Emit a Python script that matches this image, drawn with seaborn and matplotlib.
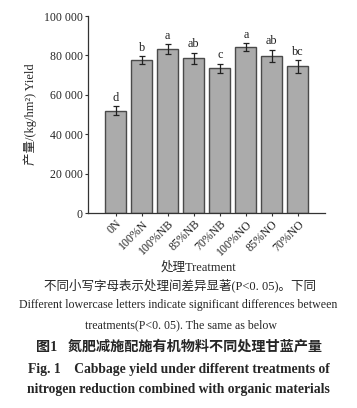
import matplotlib
matplotlib.use("Agg")
import matplotlib.pyplot as plt
import seaborn as sns
import pandas as pd
from matplotlib.ticker import FuncFormatter, MultipleLocator

treatments = ["0N", "100%N", "100%NB", "85%NB", "70%NB", "100%NO", "85%NO", "70%NO"]
yield_mean = [51900, 77500, 83100, 78500, 73400, 84100, 79800, 74400]
yield_err = [2300, 2000, 2500, 2900, 2400, 2100, 3100, 3100]
letters = ["d", "b", "a", "ab", "c", "a", "ab", "bc"]

sns.set_style("white")
plt.rcParams["font.family"] = ["Liberation Serif", "Noto Sans CJK SC"]

df = pd.DataFrame({"treatment": treatments, "yield": yield_mean})

fig = plt.figure(figsize=(3.57, 4.08), dpi=100)
ax = fig.add_axes([88/357, 1-213/408, (325-88)/357, (213-16)/408])

sns.barplot(data=df, x="treatment", y="yield", order=treatments, color="#ababab",
            edgecolor="#4a4a4a", linewidth=1.0, width=0.8, errorbar=None, saturation=1, ax=ax)
ax.errorbar(range(len(treatments)), yield_mean, yerr=yield_err, fmt="none",
            ecolor="#222222", elinewidth=0.9, capsize=2.2, capthick=0.9)
for i, (m, e, l) in enumerate(zip(yield_mean, yield_err, letters)):
    ax.text(i, m + e + 1200, l, ha="center", va="bottom", fontsize=8.8, color="#222222")

ax.set_xlim(-1.06, 8.04)
ax.set_ylim(0, 100000)
ax.yaxis.set_major_locator(MultipleLocator(20000))
ax.yaxis.set_major_formatter(FuncFormatter(lambda v, p: f"{int(v):,}".replace(",", " ")))
for s in ["top", "right"]:
    ax.spines[s].set_visible(False)
for s in ["left", "bottom"]:
    ax.spines[s].set_color("#333333")
    ax.spines[s].set_linewidth(0.9)
ax.tick_params(axis="y", direction="out", length=2.5, width=0.8, color="#333333",
               labelsize=8.5, pad=1.2, left=True)
ax.tick_params(axis="x", direction="out", length=2.5, width=0.8, color="#333333",
               labelsize=8.5, pad=1, bottom=True)
plt.setp(ax.get_xticklabels(), rotation=45, ha="right", rotation_mode="anchor")
ax.set_xlabel("")
ax.set_ylabel("产量/(kg/hm²) Yield", fontsize=9)
ax.yaxis.set_label_coords(-0.215, 0.5)

fig.text(199/357, 1-267/408, "处理Treatment", ha="center", va="center", fontsize=9)
fig.text(0.505, 1-285/408, "不同小写字母表示处理间差异显著(P<0. 05)。下同", ha="center", va="center", fontsize=9)
fig.text(0.5, 1-305/408, "Different lowercase letters indicate significant differences between",
         ha="center", va="center", fontsize=8.6)
fig.text(0.508, 1-325/408, "treatments(P<0. 05). The same as below", ha="center", va="center", fontsize=8.6)
fig.text(0.5, 1-347/408, "图1   氮肥减施配施有机物料不同处理甘蓝产量", ha="center", va="center",
         fontsize=10.2, fontweight="bold")
fig.text(0.5, 1-369/408, "Fig. 1    Cabbage yield under different treatments of", ha="center",
         va="center", fontsize=9.8, fontweight="bold")
fig.text(0.5, 1-390/408, "nitrogen reduction combined with organic materials", ha="center",
         va="center", fontsize=9.8, fontweight="bold")

fig.savefig("out.png", dpi=100)
